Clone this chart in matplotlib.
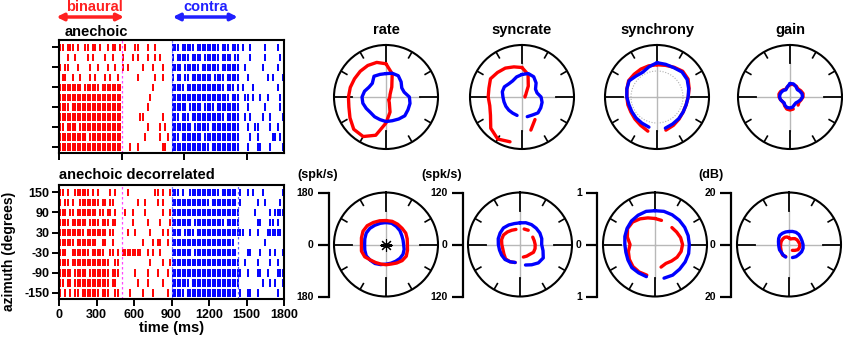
import numpy as np
import matplotlib.pyplot as plt
from matplotlib.transforms import blended_transform_factory

plt.rcParams['font.family'] = ['Liberation Sans', 'DejaVu Sans']
plt.rcParams['font.weight'] = 'bold'
plt.rcParams['axes.labelweight'] = 'bold'
plt.rcParams['axes.unicode_minus'] = False

W, H = 843, 345

# ---------------- raster data ----------------
# each row: 4 segments (0-500, 500-900, 900-1460, 1460-1800 ms), 20 ms per char
seg_starts = [0, 500, 900, 1460]
bin_ms = 20
azimuths = [150, 120, 90, 60, 30, 0, -30, -60, -90, -120, -150]

anechoic_rows = [
    "||.|||.|..||.||.|..|.||.| .|...||...|..|...... |||.|||||.|||||||||.|||.||| |..|.....|....|..",
    "...|..|....|.|....|..|... |...|.|...|..|.|.... |.|||||.||||.||||||.||||.|| ...|.....|.....|.",
    "|.||...|....|..|...|..|.. |.|.....|...|...|... ||||.||||||.|||||||.||||||| .|......|.....|..",
    ".||..|..|...|.|...|.|..|. ......|......|..|... |.||.||.||||||||.||||.||||| ..|.......|.|...|",
    "|||||||||.||||||.||||||||. ............|....... |||||.|||||||||||||||.|||.| |...|.........|..",
    "||||||||||||||||||||||||| ...........|........ |||||||||||||||||||||||.||| .||.|..|..|....|.",
    "||||.|||||||||||||||||||| ..........|......... ||||||.|||||.||||.||||||||| ..|......|.....|..",
    "||||||||||||||||||||||||| .......||.......|... |||.|||.|||||||||||||.||||| .|.|....|..|....|",
    "||.||||.||||||||||||||||| ..........|....|.|.. ||||||||.||||||.||||||||||| ..|..||....|..|..",
    "|||||||||||.||||||||||||| .........|.....|..|. |||.||||||||.|||||||||||||| ...|..|.....||.|.",
    "||||||||||||||||||||||||| ...|..|.........||.. |||||||||||||||.||||||||||| ..|...||...|....|",
]

decorrelated_rows = [
    "||.|..||||||.|.|....|.|.. ..|..........||.|..| |||.|..||||||||||||.||||||.| ..|.|...|.......|",
    "|.||.|..||||||||.||.||... ......|..|....|.|... |||||||||||||||.||||||||||.| ......|..|.....|.",
    "|||.||.||||||||.||.||.|.. .|..|....|......|..| |||||||||||||||||||||||||||. .....|.....|.||||",
    "||||.||||||.||||.|||.||... ....|.....|....|...| ||||||||.||||||||||||.||||| ......||...||.|..",
    "||||||||||.||||||||.||... ..|..|.....|....|.|. ||||.||||.|||||||||||||||||| |..|..|...||||||.",
    "||||||.||||||||..||..|... ........|...|.||..|. |||||||||||||||||||||||||... .........|.......",
    "|||..|||||||.|||||..||.|. ||||||||..|.|..|.... ||||||||.|||||||||||||||||. ..||...|...|.|..|",
    "||||.|||||||||||||||..||. ...........|....|..| ||||||||||||||||||||||||||| .|....|....|..|..",
    "|||||.|||||.||||||||.|||. .....|....|...|...|. |||||||||||||||||||||||||||| ..|...||..|...|||",
    "||.||.||||||||||||||.||.. ......|...|.....|... |||||||.|||||||||||||||||||. ........|..|.|..|",
    "|.|.|.||.|||||||.|||..||. ...|....|...|.....|. |||||.||||||||||||||||||||.| ..||..|.......|..",
]

# ---------------- polar data (every 15 deg, clockwise from front) ----------------
angles = list(range(0, 360, 15))
nan = np.nan

rate_top_red = [115, 83, 40, 22, 16, 14, 13, 13, 13, 13, 23, 54,
                90, 137, 158, 158, 144, 133, 130, 128, 126, 126, 126, 124]
rate_top_blue = [81, 85, 85, 74, 63, 65, 81, 86, 88, 92, 88, 85,
                 85, 81, 79, 76, 79, 83, 83, 77, 68, 67, 83, 81]
syncrate_top_red = [68, 54, 29, 14, 10, 7, 7, nan, nan, nan, 60, 79,
                    nan, 107, 112, 102, 84, 77, 78, 79, 84, 80, 77, 72]
syncrate_top_blue = [52, 56, 54, 46, 36, 36, 44, 48, 50, 52, 48, 47,
                     nan, 44, 43, 43, 43, 43, 44, 47, 47, 43, 43, 48]
synchrony_top_red = [.62, .63, .66, .70, .69, .64, .60, .58, .58, .60, .63, .66,
                     nan, .68, .63, .60, .58, .58, .58, .60, .63, .62, .62, .62]
synchrony_top_blue = [.66, .65, .65, .68, .67, .63, .60, .58, .58, .59, .60, .62,
                      nan, .60, .58, .57, .56, .56, .58, .60, .62, .57, .55, .60]
gain_top_red = [4.8, 5.0, 4.8, 4.4, 4.8, 5.2, 5.0, 4.4, 4.0, 4.4, nan, 4.8,
                5.0, 4.8, 4.0, 3.4, 3.4, 3.8, 4.2, 4.4, 4.2, 3.8, 3.4, 4.0]
gain_top_blue = [5.2, 5.2, 4.6, 4.0, 4.4, 4.8, 4.8, 4.2, 3.6, 3.2, 3.4, 4.0,
                 4.2, 4.2, 3.8, 3.2, 3.4, 3.8, 4.0, 4.0, 3.8, 3.6, 3.2, 4.0]

rate_bot_red = [83, 83, 81, 79, 79, 76, 74, 77, 81, 79, 74, 70,
                70, 70, 72, 76, 85, 88, 85, 88, 92, 92, 88, 85]
rate_bot_blue = [76, 76, 72, 68, 63, 61, 61, 65, 68, 68, 67, 67,
                 68, 72, 76, 77, 79, 76, 74, 76, 79, 79, 77, 76]
syncrate_bot_red = [nan, 37, 38, nan, 34, 34, 35, 36, 36, 32, 31, 30,
                    nan, 43, 46, 47, 43, 41, 42, 44, 44, 41, 38, 36]
syncrate_bot_blue = [50, 52, 53, 53, 53, 52, 50, 55, 62, 60, 54, 49,
                     nan, 43, 46, 49, 49, 49, 50, 52, 53, 54, 52, 50]
synchrony_bot_red = [.50, .48, nan, .46, .48, .51, .53, .52, .49, .45, .42, .45,
                     nan, .61, .61, .60, .57, .53, .48, .55, .61, .61, .57, .53]
synchrony_bot_blue = [.65, .66, .66, .66, .66, .66, .66, .67, .67, .67, .68, .67,
                      nan, .64, .63, .63, .60, .58, .58, .60, .62, .64, .65, .66]
gain_bot_red = [2.6, 2.2, 2.6, 3.2, 3.6, 3.8, 4.2, 4.2, 4.0, 3.2, 2.6, nan,
                nan, 4.8, 4.8, 4.2, 3.6, 3.4, 3.2, 3.2, 3.2, 3.2, 3.2, 3.0]
gain_bot_blue = [5.0, 5.2, 5.4, 5.4, 5.2, 5.2, 5.4, 5.6, 5.6, 5.4, 5.4, 5.2,
                 nan, 5.0, 4.6, 4.2, 4.2, 4.0, 4.0, 4.2, 4.6, 5.0, 5.0, 5.0]

titles = ['rate', 'syncrate', 'synchrony', 'gain']
rmax = [180, 120, 1, 20]
units = ['(spk/s)', '(spk/s)', '', '(dB)']
synchrony_sig = 0.5


def spike_times(row):
    out = []
    for start, seg in zip(seg_starts, row.split()):
        for k, ch in enumerate(seg):
            if ch == '|':
                out.append(start + k * bin_ms + bin_ms / 2)
    return np.array(out)


fig = plt.figure(figsize=(W / 100, H / 100), dpi=100)


def fig_rect(x0, y0, x1, y1):
    return [x0 / W, 1 - y1 / H, (x1 - x0) / W, (y1 - y0) / H]


def raster(rect, rows, show_labels, vmarks):
    ax = fig.add_axes(rect)
    for az, row in zip(azimuths, rows):
        t = spike_times(row)
        ax.vlines(t[t < 900], az - 11, az + 11, color='#ff0000', lw=1.4)
        ax.vlines(t[t >= 900], az - 11, az + 11, color='#0000ff', lw=1.4)
    for xv, col in vmarks:
        ax.axvline(xv, color=col, lw=0.9, ls=(0, (2, 2)))
    ax.set_xlim(0, 1800)
    ax.set_ylim(-168, 172)
    ax.set_yticks([150, 90, 30, -30, -90, -150])
    for s in ax.spines.values():
        s.set_linewidth(1.5)
    ax.tick_params(direction='out', length=5, width=1.4, labelsize=9, pad=2)
    if show_labels:
        ax.set_xticks([0, 300, 600, 900, 1200, 1500, 1800])
        for lab in ax.get_xticklabels() + ax.get_yticklabels():
            lab.set_fontweight('bold')
        ax.set_xlabel('time (ms)', fontsize=10.5, labelpad=0)
        ax.set_ylabel('azimuth (degrees)', fontsize=10)
    else:
        ax.set_xticks([0, 500, 1000, 1500])
        ax.set_xticklabels([])
        ax.set_yticklabels([])
    return ax


ax_top = raster(fig_rect(59, 40, 284, 153), anechoic_rows, False,
                [(500, '#ff44ff'), (900, '#8080ff')])
ax_bot = raster(fig_rect(59, 185, 284, 299), decorrelated_rows, True,
                [(500, '#ff44ff'), (900, '#8080ff'), (1430, '#6060ff')])
ax_bot.yaxis.set_label_coords(-43 / 225, 0.42)

fig.text(65 / W, 1 - 32 / H, 'anechoic', fontsize=10.5, va='center')
fig.text(59 / W, 1 - 175 / H, 'anechoic decorrelated', fontsize=10.5, va='center')

# stimulus arrows above the top raster
tr = blended_transform_factory(ax_top.transData, fig.transFigure)
ax_top.annotate('', xy=(-20, 1 - 17 / H), xytext=(520, 1 - 17 / H), xycoords=tr,
                arrowprops=dict(arrowstyle='<|-|>', color='#ff2020', lw=2.5,
                                mutation_scale=10, shrinkA=0, shrinkB=0))
ax_top.annotate('', xy=(910, 1 - 17 / H), xytext=(1430, 1 - 17 / H), xycoords=tr,
                arrowprops=dict(arrowstyle='<|-|>', color='#2020ff', lw=2.5,
                                mutation_scale=10, shrinkA=0, shrinkB=0))
ax_top.text(280, 1 - 7 / H, 'binaural', transform=tr, color='#ff2020',
            fontsize=10.5, ha='center', va='center')
ax_top.text(1170, 1 - 7 / H, 'contra', transform=tr, color='#2020ff',
            fontsize=10.5, ha='center', va='center')

# ---------------- polar panels ----------------
R = 52
top_cx = [386, 522, 657, 790]
bot_cx = [386, 520, 655, 789]
top_cy, bot_cy = 97, 244.5
bracket_x = [329, 463, 597, 731]
unit_x = [318, 442, None, 711]

top_data = [(rate_top_red, rate_top_blue), (syncrate_top_red, syncrate_top_blue),
            (synchrony_top_red, synchrony_top_blue), (gain_top_red, gain_top_blue)]
bot_data = [(rate_bot_red, rate_bot_blue), (syncrate_bot_red, syncrate_bot_blue),
            (synchrony_bot_red, synchrony_bot_blue), (gain_bot_red, gain_bot_blue)]


def polar_panel(cx, cy, rm, red, blue, red_on_top=False):
    ax = fig.add_axes(fig_rect(cx - R, cy - R, cx + R, cy + R), projection='polar')
    ax.set_theta_zero_location('N')
    ax.set_theta_direction(-1)
    ax.set_ylim(0, rm)
    ax.set_xticks([])
    ax.set_yticks([])
    ax.grid(False)
    ax.spines['polar'].set_linewidth(1.5)
    for a in range(0, 360, 30):
        t = np.deg2rad(a)
        if a % 90 == 0:
            ax.plot([t, t], [0, 0.65 * rm], color='#b8b8b8', lw=1.0)
            ax.plot([t, t], [0.65 * rm, rm], color='k', lw=1.3)
        else:
            ax.plot([t, t], [0.87 * rm, rm], color='k', lw=1.2)
    th = np.deg2rad(angles + [360])
    order = [(blue, '#0000ff'), (red, '#ff0000')] if red_on_top else \
            [(red, '#ff0000'), (blue, '#0000ff')]
    for vals, col in order:
        ax.plot(th, vals + vals[:1], color=col, lw=2.4, solid_capstyle='round')
    return ax


for i in range(4):
    ax = polar_panel(top_cx[i], top_cy, rmax[i], *top_data[i])
    if i == 2:
        circ = np.linspace(0, 2 * np.pi, 200)
        ax.plot(circ, np.full_like(circ, synchrony_sig), ls=(0, (1, 1.5)),
                color='#b0b0b0', lw=0.8, zorder=1)
    fig.text(top_cx[i] / W, 1 - 30 / H, titles[i], fontsize=10.5,
             ha='center', va='center')

for i in range(4):
    ax = polar_panel(bot_cx[i], bot_cy, rmax[i], *bot_data[i], red_on_top=(i == 0))
    if i == 0:
        ax.plot([0], [0], marker=(8, 2, 0), ms=9, color='k', mew=0.8)
        ax.plot([0], [0], marker='o', ms=2.5, color='k')
    # scale bracket
    bx = fig.add_axes(fig_rect(bracket_x[i], bot_cy - R, bracket_x[i] + 1, bot_cy + R))
    bx.set_facecolor('none')
    for side in ['top', 'right', 'bottom']:
        bx.spines[side].set_visible(False)
    bx.spines['left'].set_linewidth(1.6)
    bx.set_xticks([])
    bx.set_ylim(-rmax[i], rmax[i])
    bx.set_yticks([-rmax[i], 0, rmax[i]])
    bx.set_yticklabels([str(rmax[i]), '0', str(rmax[i])], fontweight='bold')
    bx.tick_params(axis='y', direction='out', length=8, width=1.6, labelsize=7.5, pad=3)
    if units[i]:
        fig.text(unit_x[i] / W, 1 - 175 / H, units[i], fontsize=9,
                 ha='center', va='center')

fig.savefig('out.png', dpi=100)
